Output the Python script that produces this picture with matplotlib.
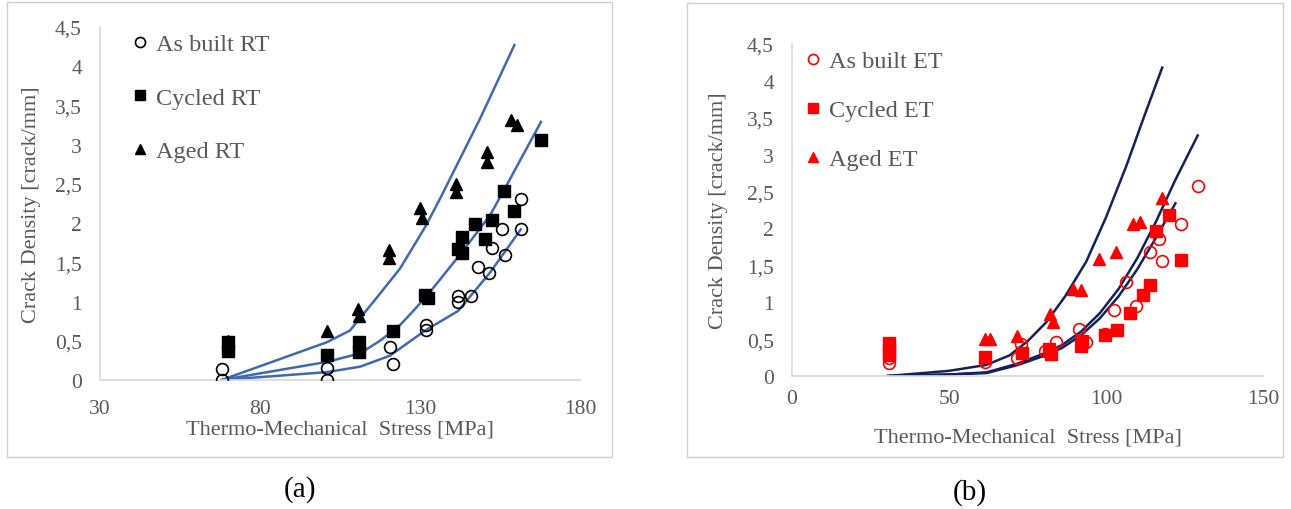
import numpy as np
import matplotlib.pyplot as plt
from matplotlib.patches import Rectangle
from matplotlib.ticker import FuncFormatter, MultipleLocator

# ---- (a) room temperature ----
asbuilt_rt_x = [68, 68, 100.8, 100.8, 120.6, 121.5, 132, 132, 142, 142, 146, 148, 151.5, 152.5, 155.5, 156.5, 161.5, 161.5]
asbuilt_rt_y = [0.0, 0.14, 0.0, 0.15, 0.42, 0.2, 0.70, 0.64, 1.07, 1.0, 1.07, 1.44, 1.36, 1.68, 1.93, 1.59, 2.31, 1.93]

cycled_rt_x = [70, 70, 100.8, 111, 111, 121.5, 131.5, 132.5, 142, 143, 143, 147.2, 150.4, 152.4, 156.4, 159.5, 167.8]
cycled_rt_y = [0.48, 0.37, 0.32, 0.48, 0.36, 0.63, 1.08, 1.05, 1.67, 1.82, 1.62, 1.99, 1.80, 2.04, 2.41, 2.16, 3.06]

aged_rt_x = [70, 100.8, 110.5, 111, 120.4, 120.4, 130, 130.5, 141.2, 141.3, 151, 151, 158.3, 160.4]
aged_rt_y = [0.5, 0.63, 0.9, 0.82, 1.66, 1.55, 2.19, 2.07, 2.5, 2.4, 2.91, 2.78, 3.32, 3.25]

# model curves
aged_rt_fit_x = [68, 100.8, 108.1, 111.3, 116.5, 123.75, 131.6, 136.25, 148.75, 159.5]
aged_rt_fit_y = [0, 0.48, 0.63, 0.79, 1.05, 1.42, 1.95, 2.31, 3.33, 4.27]
cycled_rt_fit_x = [68, 100.8, 111.3, 117.5, 123.75, 127.9, 133.1, 143.5, 151.9, 158.1, 167.8]
cycled_rt_fit_y = [0, 0.23, 0.34, 0.50, 0.70, 0.88, 1.12, 1.65, 2.10, 2.56, 3.29]
asbuilt_rt_fit_x = [68, 100.8, 111.3, 120.6, 131.6, 141.9, 151.9, 161.5]
asbuilt_rt_fit_y = [0, 0.10, 0.17, 0.31, 0.63, 0.88, 1.37, 1.92]

rt_xticks = [30, 80, 130, 180]

# ---- (b) elevated temperature ----
asbuilt_et_x = [31, 31, 61.5, 71.5, 73, 80.5, 84.2, 91.4, 93.7, 99.6, 102.7, 106.5, 109.6, 113.9, 117.0, 117.8, 123.9, 129.2]
asbuilt_et_y = [0.17, 0.25, 0.19, 0.24, 0.44, 0.34, 0.46, 0.64, 0.46, 0.57, 0.90, 1.28, 0.95, 1.68, 1.86, 1.56, 2.06, 2.58]

cycled_et_x = [31, 31, 31, 61.4, 73.1, 82, 82.5, 92.1, 92.5, 99.6, 103.5, 107.7, 111.7, 113.9, 116.0, 120.0, 124.0]
cycled_et_y = [0.45, 0.36, 0.28, 0.26, 0.31, 0.37, 0.30, 0.41, 0.47, 0.56, 0.63, 0.85, 1.10, 1.23, 1.97, 2.18, 1.57]

aged_et_x = [31, 61.4, 63.0, 71.5, 82.1, 83.1, 89.5, 92.1, 97.7, 103.3, 108.6, 110.9, 117.9]
aged_et_y = [0.3, 0.50, 0.50, 0.54, 0.84, 0.73, 1.18, 1.16, 1.59, 1.68, 2.06, 2.09, 2.41]

aged_et_fit_x = [30.6, 50, 61.9, 69.3, 75, 81, 87, 93.7, 100, 106.5, 112, 117.9]
aged_et_fit_y = [0, 0.07, 0.15, 0.28, 0.47, 0.73, 1.08, 1.55, 2.15, 2.85, 3.5, 4.18]
asbuilt_et_fit_x = [30.6, 50, 62, 72, 80, 86, 92, 98, 104, 110, 116, 122, 129.2]
asbuilt_et_fit_y = [0, 0.02, 0.05, 0.17, 0.3, 0.42, 0.6, 0.85, 1.18, 1.6, 2.1, 2.65, 3.26]
cycled_et_fit_x = [30.6, 50, 62, 72, 80, 86, 92, 98, 104, 110, 116, 122.1]
cycled_et_fit_y = [0, 0.02, 0.04, 0.15, 0.27, 0.38, 0.55, 0.78, 1.08, 1.45, 1.88, 2.34]

et_xticks = [0, 50, 100, 150]

W, H = 1291, 510
plt.rcParams['font.family'] = ['Liberation Serif', 'DejaVu Serif']
txt = '#595959'
grid_c = '#D9D9D9'

fig = plt.figure(figsize=(W / 100, H / 100), dpi=100)


def px_axes(x0, y0, x1, y1):
    # pixel box (top-left origin) -> figure axes
    return fig.add_axes([x0 / W, 1 - y1 / H, (x1 - x0) / W, (y1 - y0) / H])


def box(x0, y0, x1, y1):
    fig.patches.append(Rectangle((x0 / W, 1 - y1 / H), (x1 - x0) / W, (y1 - y0) / H,
                                 transform=fig.transFigure, fill=False,
                                 edgecolor='#D0D0D0', lw=1.0))


comma = FuncFormatter(lambda v, p: ('%g' % v).replace('.', ','))


def style(ax, xticks, xpad, xlab_xy, ylab_xy):
    ax.set_xlim(xticks[0], xticks[-1])
    ax.set_ylim(0, 4.5)
    ax.set_xticks(xticks)
    ax.yaxis.set_major_locator(MultipleLocator(0.5))
    ax.yaxis.set_major_formatter(comma)
    for s in ['top', 'right']:
        ax.spines[s].set_visible(False)
    for s in ['left', 'bottom']:
        ax.spines[s].set_color(grid_c)
        ax.spines[s].set_linewidth(1.2)
    ax.tick_params(length=0, labelsize=15.5, colors=txt)
    ax.tick_params(axis='x', pad=xpad)
    ax.tick_params(axis='y', pad=13)
    ax.set_xlabel('Thermo-Mechanical  Stress [MPa]', fontsize=16, color=txt, va='center')
    ax.set_ylabel('Crack Density [crack/mm]', fontsize=16, color=txt, va='center')
    ax.xaxis.set_label_coords(*xlab_xy)
    ax.yaxis.set_label_coords(*ylab_xy)


def legend(ax, x_px, y_px, spacing):
    ax.legend(loc='upper left', bbox_to_anchor=(x_px / W, 1 - y_px / H),
              bbox_transform=fig.transFigure, frameon=False, fontsize=17.5,
              labelcolor=txt, markerscale=0.85, handlelength=0.6, handletextpad=0.35,
              borderpad=0, borderaxespad=0, labelspacing=spacing)


box(7, 3, 612, 458)
box(687, 4, 1283, 458)

# (a)
ax1 = px_axes(100, 28, 580, 381)
style(ax1, rt_xticks, 14, (0.5, (381 - 430) / 353), ((32 - 100) / 480, 0.5))
line_a = '#4169B0'
ax1.plot(aged_rt_fit_x, aged_rt_fit_y, color=line_a, lw=1.8, zorder=2)
ax1.plot(cycled_rt_fit_x, cycled_rt_fit_y, color=line_a, lw=1.8, zorder=2)
ax1.plot(asbuilt_rt_fit_x, asbuilt_rt_fit_y, color=line_a, lw=1.8, zorder=2)
ax1.plot(asbuilt_rt_x, asbuilt_rt_y, 'o', ms=8.5, mfc='none', mec='black', mew=1.2, label='As built RT', zorder=3)
ax1.plot(cycled_rt_x, cycled_rt_y, 's', ms=8.5, color='black', label='Cycled RT', zorder=3)
ax1.plot(aged_rt_x, aged_rt_y, '^', ms=8.5, color='black', label='Aged RT', zorder=3)
legend(ax1, 133, 34, 1.3)

# (b)
ax2 = px_axes(792, 45, 1263, 377)
style(ax2, et_xticks, 9, (0.5, (377 - 438) / 332), ((718 - 792) / 471, 0.5))
line_b = '#14215A'
ax2.plot(aged_et_fit_x, aged_et_fit_y, color=line_b, lw=1.8, zorder=2)
ax2.plot(asbuilt_et_fit_x, asbuilt_et_fit_y, color=line_b, lw=1.8, zorder=2)
ax2.plot(cycled_et_fit_x, cycled_et_fit_y, color=line_b, lw=1.8, zorder=2)
ax2.plot(asbuilt_et_x, asbuilt_et_y, 'o', ms=8.5, mfc='none', mec='#FF0000', mew=1.2, label='As built ET', zorder=3)
ax2.plot(cycled_et_x, cycled_et_y, 's', ms=8.5, color='#FF0000', label='Cycled ET', zorder=3)
ax2.plot(aged_et_x, aged_et_y, '^', ms=8.5, color='#FF0000', label='Aged ET', zorder=3)
legend(ax2, 806, 51, 1.12)

fig.text(300 / W, 1 - 490 / H, '(a)', fontsize=21, ha='center', va='center', color='black')
fig.text(970 / W, 1 - 493 / H, '(b)', fontsize=21, ha='center', va='center', color='black')

fig.savefig('out.png', dpi=100)
